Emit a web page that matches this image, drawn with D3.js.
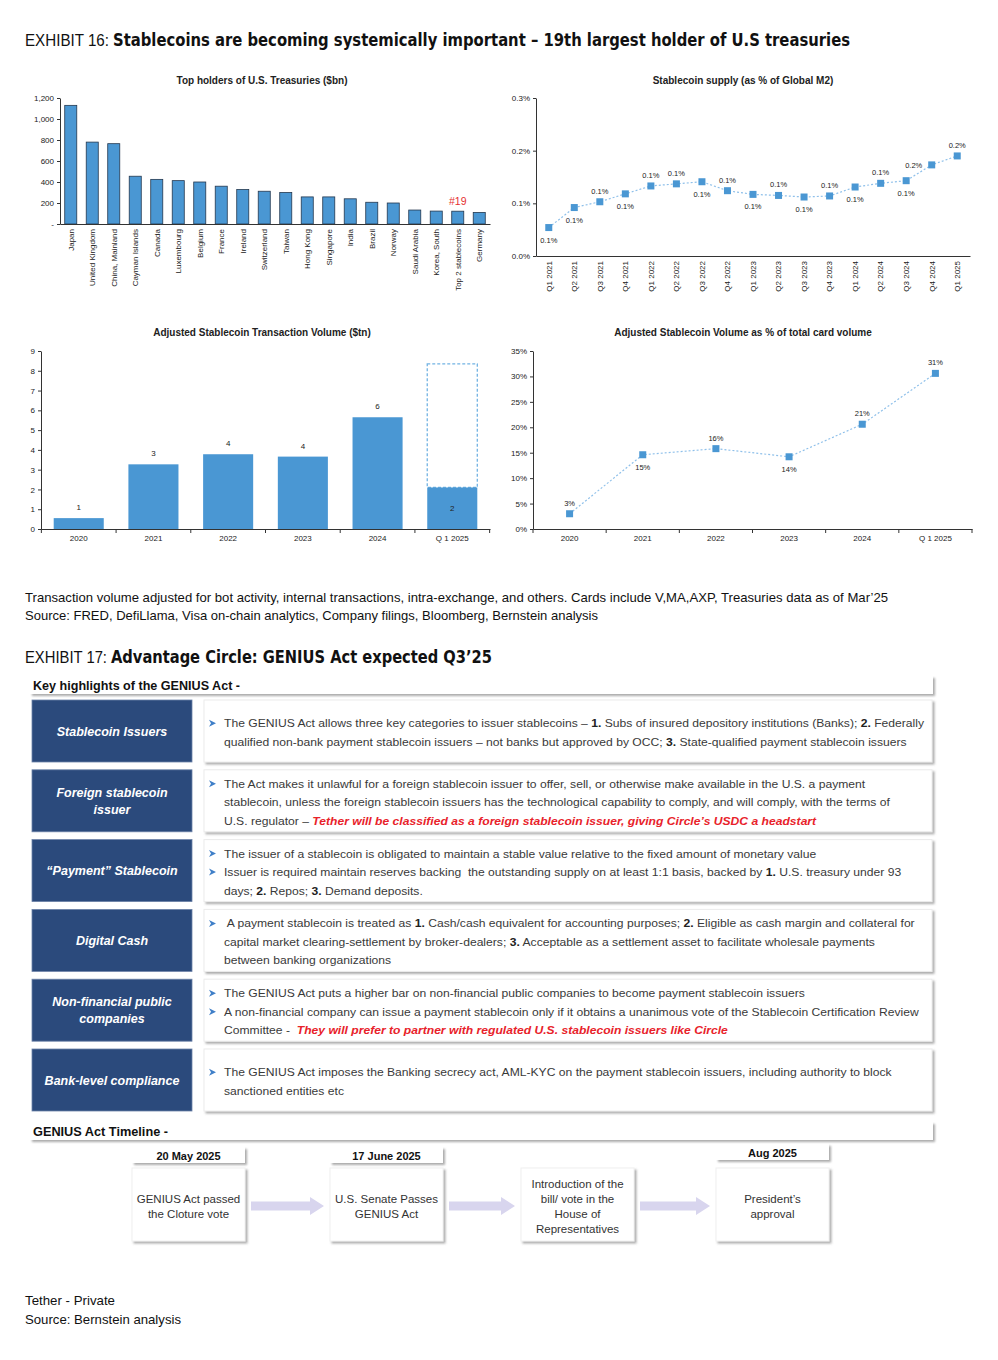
<!DOCTYPE html>
<html>
<head>
<meta charset="utf-8">
<script src="https://cdn.jsdelivr.net/npm/d3@7"></script>
<style>
  body { margin: 0; background: #fff; }
  svg { display: block; }
  text { white-space: pre; }
</style>
</head>
<body>
<div id="canvas"></div>
<script>
/* global d3 */

// ---- chart data ----
const holders = ['Japan', 'United Kingdom', 'China, Mainland', 'Cayman Islands', 'Canada', 'Luxembourg', 'Belgium',
  'France', 'Ireland', 'Switzerland', 'Taiwan', 'Hong Kong', 'Singapore', 'India', 'Brazil', 'Norway',
  'Saudi Arabia', 'Korea, South', 'Top 2 stablecoins', 'Germany']
const holdings = [1130, 780, 765, 455, 425, 413, 400, 360, 328, 312, 300, 258, 258, 240, 207, 200, 133, 123, 122, 110]
const holderTicks = [0, 200, 400, 600, 800, 1000, 1200]

const quarters = ['Q1 2021', 'Q2 2021', 'Q3 2021', 'Q4 2021', 'Q1 2022', 'Q2 2022', 'Q3 2022', 'Q4 2022',
  'Q1 2023', 'Q2 2023', 'Q3 2023', 'Q4 2023', 'Q1 2024', 'Q2 2024', 'Q3 2024', 'Q4 2024', 'Q1 2025']
const supplyPct = [0.054, 0.092, 0.103, 0.118, 0.133, 0.137, 0.141, 0.124, 0.117, 0.115, 0.112, 0.114, 0.131, 0.138, 0.143, 0.173, 0.190]
const supplyLabelSide = ['b', 'b', 'a', 'b', 'a', 'a', 'b', 'a', 'b', 'a', 'b', 'a', 'b', 'a', 'b', 'l', 'a']
const supplyTicks = [0, 0.1, 0.2, 0.3]

const periods = ['2020', '2021', '2022', '2023', '2024', 'Q 1 2025']
const txVolume = [0.55, 3.27, 3.78, 3.66, 5.65, 2.1]
const txProjected = [null, null, null, null, null, 8.35]
const txTicks = [0, 1, 2, 3, 4, 5, 6, 7, 8, 9]

const cardPct = [3.0, 14.6, 15.8, 14.2, 20.6, 30.6]
const cardLabelSide = ['a', 'b', 'a', 'b', 'a', 'a']
const cardTicks = [0, 5, 10, 15, 20, 25, 30, 35]

// ---- exhibit 17 text ----
const highlightLabels = [['Stablecoin Issuers'], ['Foreign stablecoin', 'issuer'], ['“Payment” Stablecoin'],
  ['Digital Cash'], ['Non-financial public', 'companies'], ['Bank-level compliance']]
// "> " starts a bullet, *x* is bold, ~x~ is red bold italic
const highlightText = [
  ['> The GENIUS Act allows three key categories to issuer stablecoins – *1.* Subs of insured depository institutions (Banks); *2.* Federally',
    'qualified non-bank payment stablecoin issuers – not banks but approved by OCC; *3.* State-qualified payment stablecoin issuers'],
  ['> The Act makes it unlawful for a foreign stablecoin issuer to offer, sell, or otherwise make available in the U.S. a payment',
    'stablecoin, unless the foreign stablecoin issuers has the technological capability to comply, and will comply, with the terms of',
    'U.S. regulator – ~Tether will be classified as a foreign stablecoin issuer, giving Circle’s USDC a headstart~'],
  ['> The issuer of a stablecoin is obligated to maintain a stable value relative to the fixed amount of monetary value',
    '> Issuer is required maintain reserves backing  the outstanding supply on at least 1:1 basis, backed by *1.* U.S. treasury under 93',
    'days; *2.* Repos; *3.* Demand deposits.'],
  ['>  A payment stablecoin is treated as *1.* Cash/cash equivalent for accounting purposes; *2.* Eligible as cash margin and collateral for',
    'capital market clearing-settlement by broker-dealers; *3.* Acceptable as a settlement asset to facilitate wholesale payments',
    'between banking organizations'],
  ['> The GENIUS Act puts a higher bar on non-financial public companies to become payment stablecoin issuers',
    '> A non-financial company can issue a payment stablecoin only if it obtains a unanimous vote of the Stablecoin Certification Review',
    'Committee -  ~They will prefer to partner with regulated U.S. stablecoin issuers like Circle~'],
  ['> The GENIUS Act imposes the Banking secrecy act, AML-KYC on the payment stablecoin issuers, including authority to block',
    'sanctioned entities etc']
]
const timelineDates = ['20 May 2025', '17 June 2025', '', 'Aug 2025']
const timelineSteps = [['GENIUS Act passed', 'the Cloture vote'], ['U.S. Senate Passes', 'GENIUS Act'],
  ['Introduction of the', 'bill/ vote in the', 'House of', 'Representatives'], ['President’s', 'approval']]

// ---- page ----
const W = 998, H = 1360
const SANS = '"Liberation Sans", Arial, sans-serif'
const BLUE = '#4a97d3'

const svg = d3.select('#canvas').append('svg').attr('width', W).attr('height', H)

const defs = svg.append('defs')
defs.append('filter').attr('id', 'sh')
  .attr('x', '-5%').attr('y', '-20%').attr('width', '115%').attr('height', '150%')
  .append('feDropShadow')
  .attr('dx', 2).attr('dy', 2).attr('stdDeviation', 1.3)
  .attr('flood-color', '#666').attr('flood-opacity', 0.55)

function fit (sel, w) {
  sel.attr('textLength', w).attr('lengthAdjust', 'spacingAndGlyphs')
  return sel
}

function styleAxis (g) {
  g.selectAll('path.domain').attr('stroke', '#333')
  g.selectAll('.tick line').attr('stroke', '#333')
  g.selectAll('.tick text').attr('font-family', SANS).attr('font-size', '8px').attr('fill', '#222')
}

function chartTitle (x, y, t) {
  svg.append('text').attr('x', x).attr('y', y).attr('text-anchor', 'middle')
    .attr('font-family', SANS).attr('font-size', '10px').attr('font-weight', 'bold').attr('fill', '#222')
    .text(t)
}

// headline
function exhibit (y, lead, lw, bold, bx, bw) {
  fit(svg.append('text').attr('x', 25).attr('y', y)
    .attr('font-family', SANS).attr('font-size', '17px').attr('fill', '#111')
    .text(lead), lw)
  fit(svg.append('text').attr('x', bx).attr('y', y)
    .attr('font-family', '"DejaVu Sans Condensed", "DejaVu Sans", sans-serif').attr('font-size', '17px')
    .attr('font-weight', 'bold').attr('fill', '#111')
    .text(bold), bw)
}
exhibit(46, 'EXHIBIT 16:', 84, 'Stablecoins are becoming systemically important – 19th largest holder of U.S treasuries', 113, 737)

// ---- chart 1: top holders ----
{
  const x = d3.scaleBand().domain(holders).range([60, 490]).paddingInner(0.44).paddingOuter(0.22)
  const y = d3.scaleLinear().domain([0, 1200]).range([224, 98])
  chartTitle(262, 84, 'Top holders of U.S. Treasuries ($bn)')

  svg.append('g').selectAll('rect').data(holders).enter().append('rect')
    .attr('x', d => x(d)).attr('width', x.bandwidth())
    .attr('y', (d, i) => y(holdings[i])).attr('height', (d, i) => y(0) - y(holdings[i]))
    .attr('fill', BLUE).attr('stroke', '#24384f').attr('stroke-width', 0.8)

  svg.append('g').attr('transform', 'translate(60,0)')
    .call(d3.axisLeft(y).tickValues(holderTicks).tickSize(3).tickSizeOuter(0)
      .tickFormat(d => d === 0 ? '-' : d3.format(',')(d)))
    .call(styleAxis)

  const xa = svg.append('g').attr('transform', 'translate(0,224)')
    .call(d3.axisBottom(x).tickSize(0).tickSizeOuter(0))
    .call(styleAxis)
  xa.selectAll('.tick text').attr('transform', 'rotate(-90)').attr('text-anchor', 'end')
    .attr('x', -5).attr('y', 0).attr('dy', '0.35em')

  const star = holders.indexOf('Top 2 stablecoins')
  svg.append('text').attr('x', x(holders[star]) + x.bandwidth() / 2).attr('y', y(holdings[star]) - 6)
    .attr('text-anchor', 'middle').attr('font-family', SANS).attr('font-size', '10.5px').attr('fill', '#e53030')
    .text('#' + (star + 1))
}

// ---- chart 2: stablecoin supply % of M2 ----
{
  const x = d3.scaleBand().domain(quarters).range([536, 970])
  const y = d3.scaleLinear().domain([0, 0.3]).range([256, 98])
  chartTitle(743, 84, 'Stablecoin supply (as % of Global M2)')

  svg.append('g').attr('transform', 'translate(536,0)')
    .call(d3.axisLeft(y).tickValues(supplyTicks).tickSize(3).tickSizeOuter(0).tickFormat(d => d.toFixed(1) + '%'))
    .call(styleAxis)
  const xa = svg.append('g').attr('transform', 'translate(0,256)')
    .call(d3.axisBottom(x).tickSize(0).tickSizeOuter(0))
    .call(styleAxis)
  xa.selectAll('.tick text').attr('transform', 'rotate(-90)').attr('text-anchor', 'end')
    .attr('x', -5).attr('y', 0).attr('dy', '0.35em')

  const cx = d => x(d) + x.bandwidth() / 2
  const line = d3.line().x(d => cx(d)).y((d, i) => y(supplyPct[i]))
  svg.append('path').attr('d', line(quarters)).attr('fill', 'none')
    .attr('stroke', '#8fc0ea').attr('stroke-width', 1.2).attr('stroke-dasharray', '2,2')
  svg.append('g').selectAll('rect').data(quarters).enter().append('rect')
    .attr('x', d => cx(d) - 3.5).attr('y', (d, i) => y(supplyPct[i]) - 3.5)
    .attr('width', 7).attr('height', 7).attr('fill', BLUE)
  svg.append('g').selectAll('text').data(quarters).enter().append('text')
    .attr('x', (d, i) => cx(d) - (supplyLabelSide[i] === 'l' ? 18 : 0))
    .attr('y', (d, i) => {
      const s = supplyLabelSide[i]
      return y(supplyPct[i]) + (s === 'a' ? -8 : s === 'b' ? 15 : 3)
    })
    .attr('text-anchor', 'middle').attr('font-family', SANS).attr('font-size', '7.5px').attr('fill', '#222')
    .text((d, i) => supplyPct[i].toFixed(1) + '%')
}

// band boundary ticks for the lower charts
function bandTicks (x, y0) {
  const bounds = x.domain().map(d => x(d) + x.bandwidth() / 2 + x.step() / 2)
  bounds.unshift(x(x.domain()[0]) + x.bandwidth() / 2 - x.step() / 2)
  svg.append('g').selectAll('line').data(bounds).enter().append('line')
    .attr('x1', d => d).attr('x2', d => d).attr('y1', y0).attr('y2', y0 + 4)
    .attr('stroke', '#333')
}

// ---- chart 3: transaction volume ----
{
  const x = d3.scaleBand().domain(periods).range([41, 490]).paddingInner(0.33).paddingOuter(0.17)
  const y = d3.scaleLinear().domain([0, 9]).range([529, 351])
  chartTitle(262, 336, 'Adjusted Stablecoin Transaction Volume ($tn)')

  svg.append('g').selectAll('rect.proj').data(periods.filter((d, i) => txProjected[i] != null)).enter()
    .append('rect')
    .attr('x', d => x(d)).attr('width', x.bandwidth())
    .attr('y', d => y(txProjected[periods.indexOf(d)]))
    .attr('height', d => y(txVolume[periods.indexOf(d)]) - y(txProjected[periods.indexOf(d)]))
    .attr('fill', 'none').attr('stroke', '#72b3e3').attr('stroke-width', 1.3).attr('stroke-dasharray', '3,2')

  svg.append('g').selectAll('rect').data(periods).enter().append('rect')
    .attr('x', d => x(d)).attr('width', x.bandwidth())
    .attr('y', (d, i) => y(txVolume[i])).attr('height', (d, i) => y(0) - y(txVolume[i]))
    .attr('fill', BLUE)

  svg.append('g').attr('transform', 'translate(41,0)')
    .call(d3.axisLeft(y).tickValues(txTicks).tickSize(3).tickSizeOuter(0))
    .call(styleAxis)
  svg.append('g').attr('transform', 'translate(0,529)')
    .call(d3.axisBottom(x).tickSize(0).tickPadding(6).tickSizeOuter(0))
    .call(styleAxis)
  bandTicks(x, 529)

  svg.append('g').selectAll('text').data(periods).enter().append('text')
    .attr('x', d => x(d) + x.bandwidth() / 2)
    .attr('y', (d, i) => txProjected[i] != null ? y(0) - 18 : y(txVolume[i]) - 8)
    .attr('text-anchor', 'middle').attr('font-family', SANS).attr('font-size', '8px').attr('fill', '#222')
    .text((d, i) => Math.round(txVolume[i]))
}

// ---- chart 4: % of card volume ----
{
  const x = d3.scaleBand().domain(periods).range([533, 972])
  const y = d3.scaleLinear().domain([0, 35]).range([529, 351])
  chartTitle(743, 336, 'Adjusted Stablecoin Volume as % of total card volume')

  svg.append('g').attr('transform', 'translate(533,0)')
    .call(d3.axisLeft(y).tickValues(cardTicks).tickSize(3).tickSizeOuter(0).tickFormat(d => d + '%'))
    .call(styleAxis)
  svg.append('g').attr('transform', 'translate(0,529)')
    .call(d3.axisBottom(x).tickSize(0).tickPadding(6).tickSizeOuter(0))
    .call(styleAxis)
  bandTicks(x, 529)

  const cx = d => x(d) + x.bandwidth() / 2
  const line = d3.line().x(d => cx(d)).y((d, i) => y(cardPct[i]))
  svg.append('path').attr('d', line(periods)).attr('fill', 'none')
    .attr('stroke', '#8fc0ea').attr('stroke-width', 1.2).attr('stroke-dasharray', '2,2')
  svg.append('g').selectAll('rect').data(periods).enter().append('rect')
    .attr('x', d => cx(d) - 3.5).attr('y', (d, i) => y(cardPct[i]) - 3.5)
    .attr('width', 7).attr('height', 7).attr('fill', BLUE)
  svg.append('g').selectAll('text').data(periods).enter().append('text')
    .attr('x', d => cx(d))
    .attr('y', (d, i) => y(cardPct[i]) + (cardLabelSide[i] === 'a' ? -8 : 15))
    .attr('text-anchor', 'middle').attr('font-family', SANS).attr('font-size', '7.5px').attr('fill', '#222')
    .text((d, i) => Math.round(cardPct[i]) + '%')
}

// notes
function note (y, t, w) {
  fit(svg.append('text').attr('x', 25).attr('y', y)
    .attr('font-family', SANS).attr('font-size', '13px').attr('fill', '#111').text(t), w)
}
note(602, 'Transaction volume adjusted for bot activity, internal transactions, intra-exchange, and others. Cards include V,MA,AXP, Treasuries data as of Mar’25', 863)
note(620, 'Source: FRED, DefiLlama, Visa on-chain analytics, Company filings, Bloomberg, Bernstein analysis', 573)

// ---- exhibit 17 ----
exhibit(663, 'EXHIBIT 17:', 82, 'Advantage Circle: GENIUS Act expected Q3’25', 111, 381)

function sectionBar (y, t, w) {
  svg.append('rect').attr('x', 30).attr('y', y).attr('width', 903).attr('height', 18)
    .attr('fill', '#fff').attr('filter', 'url(#sh)')
  fit(svg.append('text').attr('x', 33).attr('y', y + 14)
    .attr('font-family', SANS).attr('font-size', '12.5px').attr('font-weight', 'bold').attr('fill', '#111')
    .text(t), w)
}
sectionBar(676, 'Key highlights of the GENIUS Act -', 207)

const rowTop = i => 700 + i * 69.8
const ROW_H = 62
const BODY_FONT = 11

// measure a reference line to get the width factor
const probe = svg.append('text').attr('font-family', SANS).attr('font-size', BODY_FONT + 'px')
  .text(highlightText[0][0].replace(/[*~]/g, '').replace('> ', ''))
const bodyK = 700 / probe.node().getComputedTextLength()
probe.remove()

highlightLabels.forEach((lines, i) => {
  const t = rowTop(i)
  svg.append('rect').attr('x', 32).attr('y', t).attr('width', 160).attr('height', ROW_H)
    .attr('fill', '#2b4a7c').attr('stroke', '#6d83a8').attr('stroke-width', 0.8)
  lines.forEach((l, j) => {
    svg.append('text').attr('x', 112).attr('y', t + 31 + 4.5 + (j - (lines.length - 1) / 2) * 17.5)
      .attr('text-anchor', 'middle').attr('font-family', SANS).attr('font-size', '12.5px')
      .attr('font-weight', 'bold').attr('font-style', 'italic').attr('fill', '#fff').text(l)
  })

  svg.append('rect').attr('x', 204).attr('y', t).attr('width', 728).attr('height', ROW_H)
    .attr('fill', '#fff').attr('stroke', '#ececec').attr('filter', 'url(#sh)')

  const body = highlightText[i]
  body.forEach((raw, j) => {
    const by = t + 32.5 + 4 + (j - (body.length - 1) / 2) * 18.5
    const bullet = raw.startsWith('> ')
    const s = bullet ? raw.slice(2) : raw
    if (bullet) {
      // small blue arrowhead bullet
      const bx = 209, bc = by - 4
      svg.append('path')
        .attr('d', `M${bx},${bc - 3.5} L${bx + 7},${bc} L${bx},${bc + 3.5} L${bx + 2},${bc} Z`)
        .attr('fill', '#3f7fc8')
    }
    const txt = svg.append('text').attr('x', 224).attr('y', by)
      .attr('font-family', SANS).attr('font-size', BODY_FONT + 'px').attr('fill', '#3a3a3a')
    s.split(/(\*[^*]+\*|~[^~]+~)/).filter(p => p.length).forEach(p => {
      const ts = txt.append('tspan')
      if (p[0] === '*') ts.attr('font-weight', 'bold').attr('fill', '#222').text(p.slice(1, -1))
      else if (p[0] === '~') ts.attr('font-weight', 'bold').attr('font-style', 'italic').attr('fill', '#e8222a').text(p.slice(1, -1))
      else ts.text(p)
    })
    fit(txt, txt.node().getComputedTextLength() * bodyK)
  })
})

// ---- timeline ----
sectionBar(1122, 'GENIUS Act Timeline -', 135)

const stepX = [132, 330, 521, 716]
const STEP_W = 113
const dateY = [1147, 1147, null, 1144]

timelineSteps.forEach((lines, i) => {
  const x0 = stepX[i]
  if (timelineDates[i]) {
    svg.append('rect').attr('x', x0).attr('y', dateY[i]).attr('width', STEP_W).attr('height', 16)
      .attr('fill', '#fff').attr('filter', 'url(#sh)')
    svg.append('text').attr('x', x0 + STEP_W / 2).attr('y', dateY[i] + 12.5).attr('text-anchor', 'middle')
      .attr('font-family', SANS).attr('font-size', '11px').attr('font-weight', 'bold').attr('fill', '#111')
      .text(timelineDates[i])
  }
  svg.append('rect').attr('x', x0).attr('y', 1168).attr('width', STEP_W).attr('height', 73)
    .attr('fill', '#fff').attr('stroke', '#f0f0f0').attr('filter', 'url(#sh)')
  lines.forEach((l, j) => {
    svg.append('text').attr('x', x0 + STEP_W / 2)
      .attr('y', 1206 + 4 + (j - (lines.length - 1) / 2) * 15)
      .attr('text-anchor', 'middle').attr('font-family', SANS).attr('font-size', '11.5px').attr('fill', '#333')
      .text(l)
  })
  if (i < timelineSteps.length - 1) {
    const a0 = x0 + STEP_W + 6
    const a1 = stepX[i + 1] - 6
    const cy = 1206
    svg.append('path')
      .attr('d', `M${a0},${cy - 4.5} L${a1 - 14},${cy - 4.5} L${a1 - 14},${cy - 9} L${a1},${cy} L${a1 - 14},${cy + 9} L${a1 - 14},${cy + 4.5} L${a0},${cy + 4.5} Z`)
      .attr('fill', '#d8d5ee')
  }
})

// footer
note(1305, 'Tether - Private', 90)
note(1324, 'Source: Bernstein analysis', 156)
</script>
</body>
</html>
